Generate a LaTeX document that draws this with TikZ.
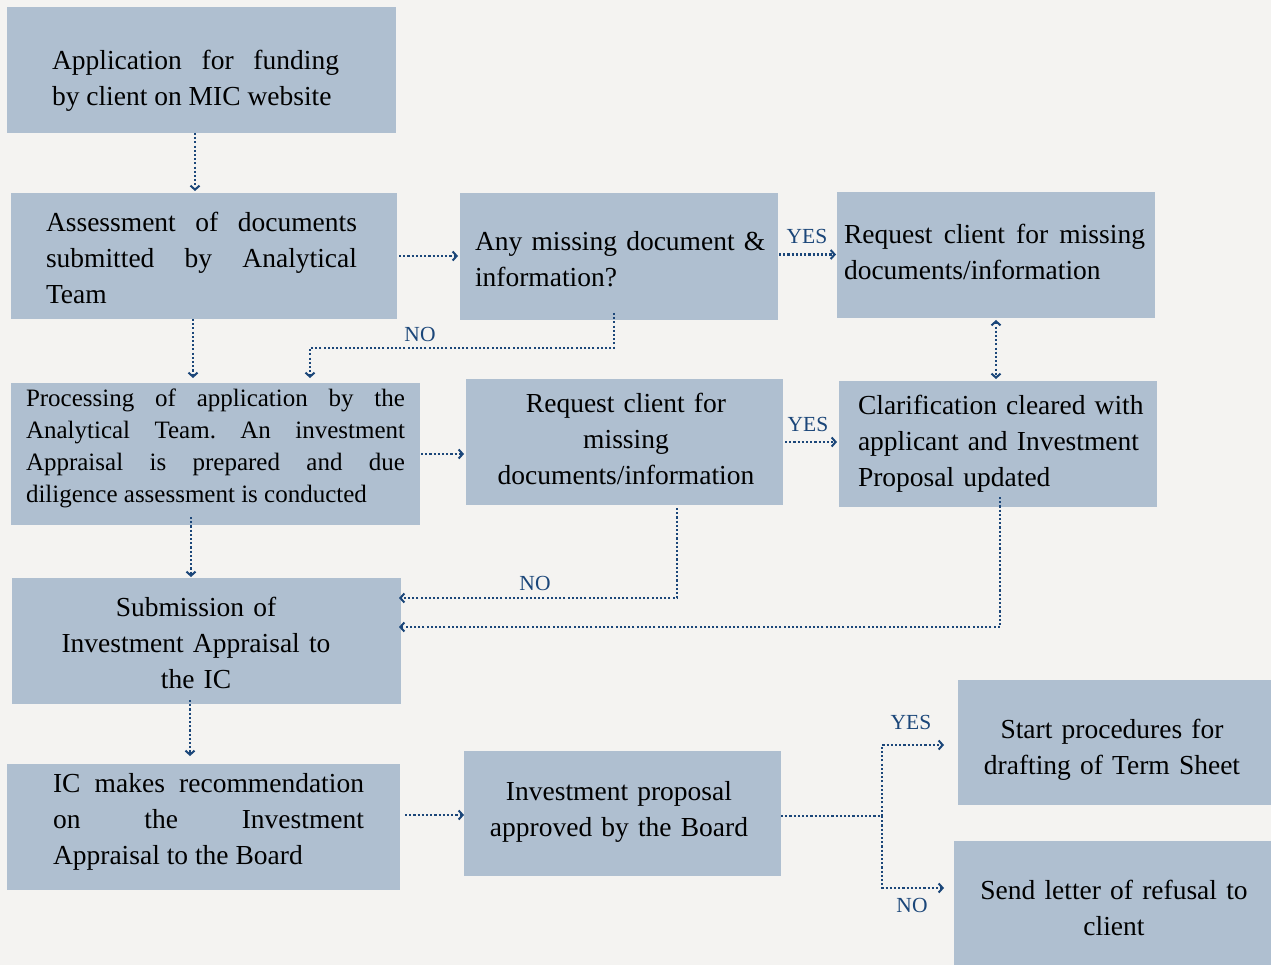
\documentclass[tikz,border=0pt]{standalone}
\usepackage{fontspec}
\setmainfont{Liberation Serif}
\usetikzlibrary{arrows.meta,calc}
\definecolor{bgc}{HTML}{F4F3F1}
\definecolor{boxc}{HTML}{AFBFD0}
\definecolor{arrc}{HTML}{1B4679}
\frenchspacing
\begin{document}
\begin{tikzpicture}[x=1pt,y=-1pt,
  box/.style={fill=boxc,draw=none,inner sep=0pt,outer sep=0pt,anchor=north west},
  txt/.style={inner sep=0pt,outer sep=0pt,text=black,font=\fontsize{27.5}{36}\selectfont},
  txts/.style={inner sep=0pt,outer sep=0pt,text=black,font=\fontsize{25}{32}\selectfont},
  lbl/.style={inner sep=0pt,text=arrc,font=\fontsize{21.5}{24}\selectfont},
  conn/.style={draw=arrc,line width=2.3pt,dash pattern=on 2.1pt off 2.1pt},
  arr/.style={conn,-{Straight Barb[length=4pt,width=9pt,line width=2pt]}},
  darr/.style={conn,{Straight Barb[length=4pt,width=9pt,line width=2pt]}-{Straight Barb[length=4pt,width=9pt,line width=2pt]}}]
\fill[bgc] (0,0) rectangle (1271,965);
\useasboundingbox (0,0) rectangle (1271,965);
% boxes
\node[box,minimum width=389pt,minimum height=126pt] (b1) at (7,7) {};
\node[box,minimum width=386pt,minimum height=126pt] (b2) at (11,193) {};
\node[box,minimum width=318pt,minimum height=127pt] (b3) at (460,193) {};
\node[box,minimum width=318pt,minimum height=126pt] (b4) at (837,192) {};
\node[box,minimum width=409pt,minimum height=142pt] (b5) at (11,383) {};
\node[box,minimum width=317pt,minimum height=126pt] (b6) at (466,379) {};
\node[box,minimum width=318pt,minimum height=126pt] (b7) at (839,381) {};
\node[box,minimum width=389pt,minimum height=126pt] (b8) at (12,578) {};
\node[box,minimum width=393pt,minimum height=126pt] (b9) at (7,764) {};
\node[box,minimum width=317pt,minimum height=125pt] (b10) at (464,751) {};
\node[box,minimum width=313pt,minimum height=125pt] (b11) at (958,680) {};
\node[box,minimum width=317pt,minimum height=124pt] (b12) at (954,841) {};
% texts
\node[txt,anchor=west,text width=287pt,align=justify] (t1) at (52,81) {Application for funding\linebreak by client on MIC website};
\node[txt,anchor=west,text width=311pt,align=justify] (t2) at (46,258) {Assessment of documents\linebreak submitted by Analytical\linebreak Team};
\node[txt,anchor=west,text width=300pt,align=left] (t3) at (475,259) {Any missing document \&\\ information?};
\node[txt,anchor=west,text width=301pt,align=justify] (t4) at (844,252) {Request client for missing\linebreak documents/information};
\node[txts,anchor=west,text width=379pt,align=justify] (t5) at (26,448) {Processing of application by the\linebreak Analytical Team. An investment\linebreak Appraisal is prepared and due\linebreak diligence assessment is conducted};
\node[txt,text width=310pt,align=center] (t6) at (626,439) {Request client for\\ missing\\ documents/information};
\node[txt,anchor=west,text width=300pt,align=left] (t7) at (858,444) {Clarification cleared with\\ applicant and Investment\\ Proposal updated};
\node[txt,text width=380pt,align=center] (t8) at (196,643) {Submission of\\ Investment Appraisal to\\ the IC};
\node[txt,anchor=west,text width=311pt,align=justify] (t9) at (53,822) {IC makes recommendation\linebreak on the Investment\linebreak Appraisal to the Board};
\node[txt,text width=310pt,align=center] (t10) at (619,812) {Investment proposal\\ approved by the Board};
\node[txt,text width=310pt,align=center] (t11) at (1112,750) {Start procedures for\\ drafting of Term Sheet};
\node[txt,text width=310pt,align=center] (t12) at (1114,908) {Send letter of refusal to\\ client};
% connectors
\draw[arr,shorten >=2pt] ([xshift=-6.5pt]b1.south) -- ([xshift=-6.5pt]b1.south |- b2.north);
\draw[arr,shorten <=2pt,shorten >=2pt] (b2.east) -- (b2.east -| b3.west);
\draw[arr,shorten <=1pt,shorten >=1pt] ([yshift=2pt]b3.east) -- ([yshift=2pt]b3.east -| b4.west);
\node[lbl] (l1) at (807,236) {YES};
\draw[arr,shorten >=5pt] ([xshift=-5pt,yshift=7pt]b3.south) -- ++(0,35) -| ([xshift=94.5pt]b5.north);
\node[lbl] (l2) at (420,334) {NO};
\draw[arr,shorten >=5pt] ([xshift=-11pt]b2.south) -- ([xshift=-11pt]b2.south |- b5.north);
\draw[arr,shorten <=1pt,shorten >=2pt] (b5.east) -- (b5.east -| b6.west);
\draw[arr,shorten <=2pt,shorten >=2pt] (b6.east) -- (b6.east -| b7.west);
\node[lbl] (l3) at (808,424) {YES};
\draw[darr,shorten <=2pt,shorten >=2pt] (b4.south) -- (b4.south |- b7.north);
\draw[arr] ([xshift=52.5pt,yshift=-3pt]b6.south) |- ([yshift=43pt,xshift=-2pt]b8.east);
\node[lbl] (l4) at (535,583) {NO};
\draw[arr] ([xshift=2pt,yshift=10pt]b7.south) |- ([yshift=14pt,xshift=-2pt]b8.east);
\draw[arr,shorten >=1pt] ([xshift=-24.5pt,yshift=8pt]b5.south) -- ([xshift=-24.5pt]b5.south |- b8.north);
\draw[arr,shorten >=8pt] ([xshift=-16.5pt,yshift=4pt]b8.south) -- ([xshift=-16.5pt]b8.south |- b9.north);
\draw[arr,shorten <=5pt] ([yshift=12pt]b9.east) -- ([yshift=12pt]b9.east -| b10.west);
\coordinate (br) at (882,816);
\draw[conn] ([yshift=-2.5pt]b10.east) -- (br);
\draw[arr,shorten >=14pt] (br) |- ([yshift=-2.5pt]b11.west);
\draw[arr,shorten >=10pt] (br) |- ([yshift=15pt]b12.west);
\node[lbl] (l5) at (911,722) {YES};
\node[lbl] (l6) at (912,905) {NO};
\end{tikzpicture}
\end{document}
